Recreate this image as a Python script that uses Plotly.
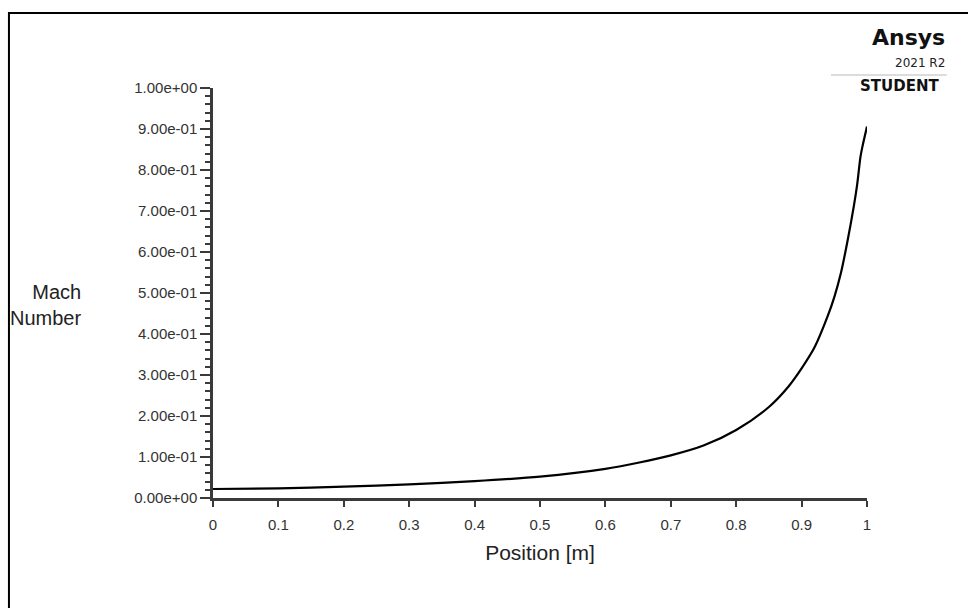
import plotly.graph_objects as go

# Data
position_m = [0.0, 0.1, 0.2, 0.3, 0.4, 0.5, 0.6, 0.65, 0.7, 0.75, 0.8, 0.85, 0.88,
              0.9, 0.92, 0.94, 0.95, 0.96, 0.97, 0.98, 0.985, 0.99, 0.993, 1.0]
mach_number = [0.022, 0.0236, 0.0276, 0.033, 0.041, 0.052, 0.071, 0.086, 0.104,
               0.128, 0.166, 0.222, 0.272, 0.316, 0.368, 0.444, 0.49, 0.548,
               0.625, 0.713, 0.765, 0.832, 0.857, 0.906]

x_tick_vals = [0, 0.1, 0.2, 0.3, 0.4, 0.5, 0.6, 0.7, 0.8, 0.9, 1.0]
x_tick_text = ["0", "0.1", "0.2", "0.3", "0.4", "0.5", "0.6", "0.7", "0.8", "0.9", "1"]
y_tick_vals = [0, 0.1, 0.2, 0.3, 0.4, 0.5, 0.6, 0.7, 0.8, 0.9, 1.0]
y_tick_text = ["0.00e+00", "1.00e-01", "2.00e-01", "3.00e-01", "4.00e-01", "5.00e-01",
               "6.00e-01", "7.00e-01", "8.00e-01", "9.00e-01", "1.00e+00"]

font_family = "Liberation Sans, Arial, sans-serif"
logo_font = "DejaVu Sans, sans-serif"
axis_color = "#3a3a3a"

fig = go.Figure()
fig.add_trace(go.Scatter(
    x=position_m, y=mach_number, mode="lines",
    line=dict(color="black", width=2.2, shape="spline", smoothing=0.8),
    showlegend=False, hoverinfo="x+y",
))

fig.update_layout(
    width=968, height=608,
    margin=dict(l=213, r=101, t=88, b=110),
    paper_bgcolor="white", plot_bgcolor="white",
    font=dict(family=font_family, color="#333", size=15),
    xaxis=dict(
        range=[0, 1], tickvals=x_tick_vals, ticktext=x_tick_text,
        showgrid=False, zeroline=False, showline=True, linecolor=axis_color, linewidth=2.5,
        ticks="outside", ticklen=6, tickwidth=2, tickcolor=axis_color,
        ticklabelstandoff=5,
        tickfont=dict(size=15, family=font_family, color="#333"),
        title=dict(text="Position [m]", font=dict(size=21, family=font_family, color="#222"),
                   standoff=14),
    ),
    yaxis=dict(
        range=[0, 1], tickvals=y_tick_vals, ticktext=y_tick_text,
        showgrid=False, zeroline=False, showline=True, linecolor=axis_color, linewidth=2.5,
        ticks="outside", ticklen=10, tickwidth=2, tickcolor=axis_color,
        tickfont=dict(size=15, family=font_family, color="#333"),
        minor=dict(dtick=0.02, ticks="outside", ticklen=5, tickwidth=2, tickcolor=axis_color,
                   showgrid=False),
    ),
    shapes=[
        dict(type="rect", xref="paper", yref="paper",
             x0=-0.312, x1=1.6, y0=-0.6, y1=1.183,
             line=dict(color="black", width=2), fillcolor="rgba(0,0,0,0)", layer="below"),
        dict(type="line", xref="paper", yref="paper",
             x0=0.945, x1=1.122, y0=1.032, y1=1.032,
             line=dict(color="#d0d0d0", width=1.5)),
    ],
    annotations=[
        dict(text="Mach<br>Number", xref="paper", yref="paper", x=-0.199, y=0.47,
             xanchor="right", yanchor="middle", showarrow=False, align="right",
             font=dict(size=20, family=font_family, color="#222")),
        dict(text="<b>Ansys</b>", xref="paper", yref="paper", x=1.122, y=1.122,
             xanchor="right", yanchor="middle", showarrow=False,
             font=dict(size=22, family=logo_font, color="#111")),
        dict(text="2021 R2", xref="paper", yref="paper", x=1.122, y=1.061,
             xanchor="right", yanchor="middle", showarrow=False,
             font=dict(size=12, family=logo_font, color="#222")),
        dict(text="<b>STUDENT</b>", xref="paper", yref="paper", x=1.1125, y=1.005,
             xanchor="right", yanchor="middle", showarrow=False,
             font=dict(size=15, family=logo_font, color="#111")),
    ],
)

fig.write_html("out.html")
